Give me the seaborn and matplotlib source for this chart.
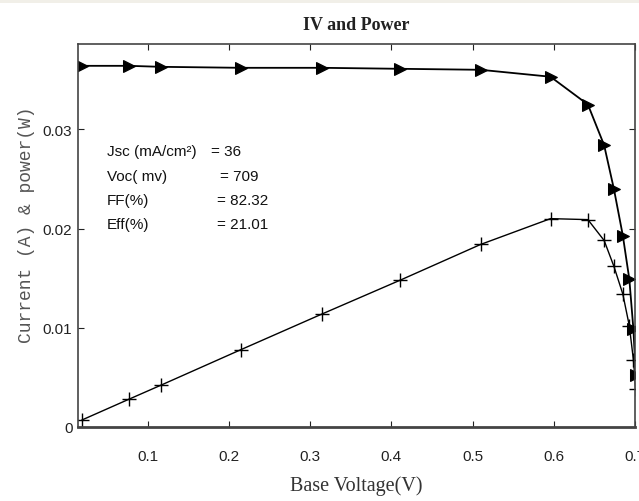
import matplotlib
matplotlib.use("Agg")
import matplotlib.pyplot as plt
import seaborn as sns
import pandas as pd
from matplotlib.patches import Rectangle

# ---- data ----
voltage = [0.019, 0.077, 0.116, 0.215, 0.315, 0.411, 0.510, 0.596,
           0.642, 0.662, 0.674, 0.685, 0.693, 0.698, 0.701]
current = [0.0364, 0.0364, 0.0363, 0.0362, 0.0362, 0.0361, 0.0360, 0.0353,
           0.0325, 0.0284, 0.0240, 0.0193, 0.0149, 0.0099, 0.0052]
power = [0.0007, 0.0028, 0.0042, 0.0078, 0.0114, 0.0148, 0.0184, 0.0210,
         0.0209, 0.0188, 0.0162, 0.0134, 0.0102, 0.0068, 0.0038]
x_ticks = [0.1, 0.2, 0.3, 0.4, 0.5, 0.6, 0.7]
x_tick_labels = ["0.1", "0.2", "0.3", "0.4", "0.5", "0.6", "0.7"]
y_ticks = [0, 0.01, 0.02, 0.03]
y_tick_labels = ["0", "0.01", "0.02", "0.03"]
param_names = ["Jsc (mA/cm\u00b2)", "Voc( mv)", "FF(%)", "Eff(%)"]
param_values = ["= 36", "= 709", "= 82.32", "= 21.01"]

df = pd.DataFrame({"V": voltage, "I": current, "P": power})

sns.set_style("ticks")
plt.rcParams["font.family"] = ["Liberation Sans", "DejaVu Sans"]

fig = plt.figure(figsize=(6.39, 5.02), dpi=100)
fig.patch.set_facecolor("white")
fig.patches.append(Rectangle((0, 1 - 4 / 502), 1, 4 / 502, transform=fig.transFigure,
                             facecolor="#f1efe8", edgecolor="none"))
ax = fig.add_axes([78 / 639, 1 - 428 / 502, (635 - 78) / 639, (428 - 45) / 502])

sns.lineplot(data=df, x="V", y="I", ax=ax, color="black", lw=1.3, sort=False,
             marker=">", markersize=9, markeredgecolor="black", markerfacecolor="black")
sns.lineplot(data=df, x="V", y="P", ax=ax, color="black", lw=1.0, sort=False,
             marker="+", markersize=10, markeredgewidth=1.0, markeredgecolor="black")

ax.set_xlim(0.0143, 0.7)
ax.set_ylim(0, 0.0386)
ax.set_xticks(x_ticks)
ax.set_xticklabels(x_tick_labels)
ax.set_yticks(y_ticks)
ax.set_yticklabels(y_tick_labels)
ax.tick_params(direction="in", length=4, width=0.8, top=True, right=True,
               labelsize=11, colors="#222222")
ax.tick_params(axis="x", pad=16)
ax.tick_params(axis="y", pad=4)
for s in ["top", "left", "right"]:
    ax.spines[s].set_color("#444444")
    ax.spines[s].set_linewidth(1.2)
ax.spines["bottom"].set_color("#444444")
ax.spines["bottom"].set_linewidth(2.0)

ax.set_title("IV and Power", fontfamily="Liberation Serif", fontsize=13,
             fontweight="bold", color="#222222", pad=11)
ax.set_xlabel("Base Voltage(V)", fontfamily="Liberation Serif", fontsize=14.5,
              color="#333333")
ax.xaxis.set_label_coords(0.5, (428 - 476) / 383)
ax.set_ylabel("Current (A) & power(W)", fontfamily="Liberation Mono", fontsize=13,
              color="#555555")
ax.yaxis.set_label_coords((35 - 78) / 557, (428 - 225) / 383)

ys = [152, 177, 201, 225]
xs_val = [211, 220, 217, 217]
for name, val, y, xv in zip(param_names, param_values, ys, xs_val):
    ax.text((107 - 78) / 557, (428 - y) / 383, name, transform=ax.transAxes,
            fontsize=11, va="center", ha="left", color="#111111")
    ax.text((xv - 78) / 557, (428 - y) / 383, val, transform=ax.transAxes,
            fontsize=11, va="center", ha="left", color="#111111")

fig.savefig("out.png", dpi=100)
